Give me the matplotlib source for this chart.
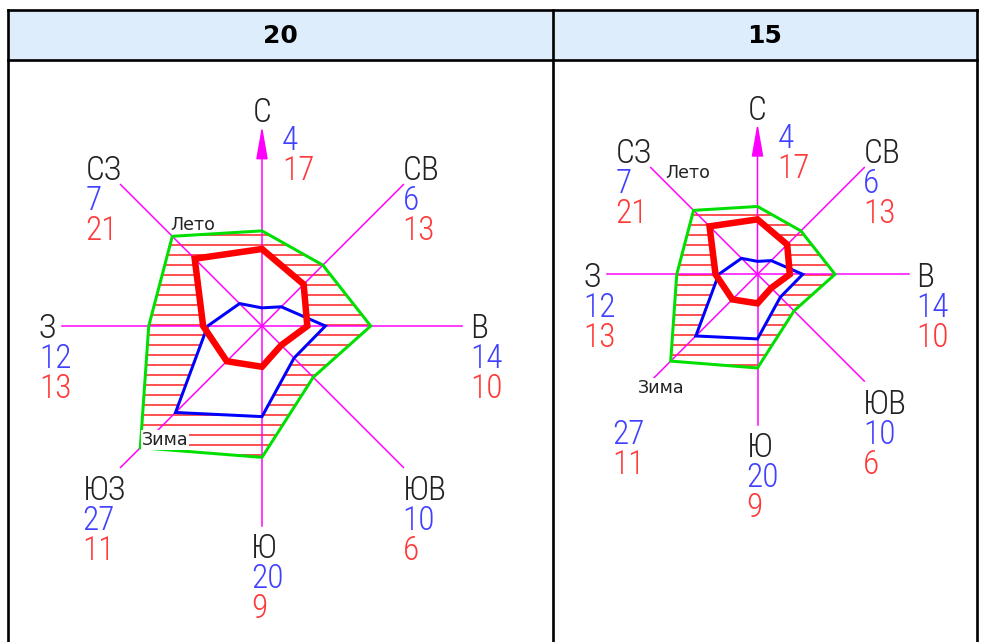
import matplotlib.pyplot as plt
from matplotlib.patches import Polygon, Rectangle
import numpy as np

W, H, DPI = 982, 642, 120

# Wind rose data (%), directions clockwise from north
directions = ['С', 'СВ', 'В', 'ЮВ', 'Ю', 'ЮЗ', 'З', 'СЗ']
angles_deg = [90, 45, 0, -45, -90, -135, 180, 135]
winter = [4, 6, 14, 10, 20, 27, 12, 7]     # Зима (blue)
summer = [17, 13, 10, 6, 9, 11, 13, 21]    # Лето (red)
headers = ['20', '15']

# label offsets from the end of each axis, pixels (x right, y down)
label_off = {'С': (0, -16), 'СВ': (-1, -17), 'В': (8, 0), 'ЮВ': (-1, 20),
             'Ю': (-11, 19), 'ЮЗ': (-38, 20), 'З': (-23, 0), 'СЗ': (-35, -17)}
num_off_N = (20, 12)
row_gap = 30

# panel geometry in pixels: cell box, centre, px per %, axis length
panels = [
    dict(cell=(8, 60, 553, 642), center=(262, 326), scale=4.53, rpx=200, sw_label=True),
    dict(cell=(553, 60, 977, 642), center=(757.5, 274.3), scale=3.23, rpx=151, sw_label=False),
]

C_RED, C_BLUE, C_GREEN, C_MAG = '#ff0000', '#0000ff', '#00e000', '#ff00ff'
T_RED, T_BLUE, T_BLACK = '#ff3838', '#4040ff', '#222222'
FONT = ['Roboto Condensed', 'Roboto', 'DejaVu Sans']

plt.rcParams['hatch.linewidth'] = 0.8

fig = plt.figure(figsize=(W / DPI, H / DPI), dpi=DPI)

# table frame
frame = fig.add_axes([0, 0, 1, 1])
frame.set_xlim(0, W)
frame.set_ylim(H, 0)
frame.set_axis_off()
frame.add_patch(Rectangle((8, 10), 969, 50, facecolor='#ddedfc', edgecolor='none'))
for (x0, y0, x1, y1) in [(8, 10, 977, 10), (8, 60, 977, 60), (8, 10, 8, 642),
                         (553, 10, 553, 642), (977, 10, 977, 642)]:
    frame.plot([x0, x1], [y0, y1], color='black', lw=1.6, solid_capstyle='projecting')
for i, htext in enumerate(headers):
    x0, _, x1, _ = panels[i]['cell']
    frame.text((x0 + x1) / 2, 36, htext, ha='center', va='center',
               fontsize=15, fontweight='bold', family='DejaVu Sans', color='black')

theta = np.deg2rad(angles_deg)
w_arr = np.array(winter, dtype=float)
s_arr = np.array(summer, dtype=float)
total = w_arr + s_arr


def pts(vals):
    return np.column_stack([vals * np.cos(theta), vals * np.sin(theta)])


for p in panels:
    x0, y0, x1, y1 = p['cell']
    cx, cy = p['center']
    sc = p['scale']
    ax = fig.add_axes([x0 / W, 1 - y1 / H, (x1 - x0) / W, (y1 - y0) / H])
    ax.set_xlim((x0 - cx) / sc, (x1 - cx) / sc)
    ax.set_ylim((cy - y1) / sc, (cy - y0) / sc)
    ax.set_axis_off()
    R = p['rpx'] / sc

    # hatched total rose, then clear the inside of the two seasonal roses
    ax.add_patch(Polygon(pts(total), closed=True, facecolor='none', edgecolor=C_RED,
                         hatch='--', lw=0, zorder=1))
    ax.add_patch(Polygon(pts(s_arr), closed=True, facecolor='white', edgecolor='none', zorder=2))
    ax.add_patch(Polygon(pts(w_arr), closed=True, facecolor='white', edgecolor='none', zorder=2))

    # direction axes
    for name, t in zip(directions, theta):
        ex, ey = R * np.cos(t), R * np.sin(t)
        if name == 'С':
            ax.annotate('', xy=(ex, ey), xytext=(0, 0),
                        arrowprops=dict(arrowstyle='-|>,head_length=1.7,head_width=0.3',
                                        color=C_MAG, lw=0.9, mutation_scale=10,
                                        shrinkA=0, shrinkB=0), zorder=3)
        else:
            ax.plot([0, ex], [0, ey], color=C_MAG, lw=0.9, zorder=3)

    ax.add_patch(Polygon(pts(total), closed=True, fill=False, edgecolor=C_GREEN, lw=1.8, zorder=4))
    ax.add_patch(Polygon(pts(w_arr), closed=True, fill=False, edgecolor=C_BLUE, lw=1.8,
                         joinstyle='miter', zorder=5))
    ax.add_patch(Polygon(pts(s_arr), closed=True, fill=False, edgecolor=C_RED, lw=3.9,
                         joinstyle='miter', zorder=6))

    # direction labels with winter / summer values
    for name, t, wv, sv in zip(directions, theta, winter, summer):
        ex, ey = R * np.cos(t), R * np.sin(t)
        dx, dy = label_off[name]
        kw = dict(xy=(ex, ey), textcoords='offset pixels', va='center_baseline',
                  fontsize=20, fontweight='light', family=FONT, annotation_clip=False)
        if name == 'С':
            ax.annotate(name, xytext=(dx, -dy), ha='center', color=T_BLACK, **kw)
            nx, ny = num_off_N
            ax.annotate(str(wv), xytext=(nx, -ny), ha='left', color=T_BLUE, **kw)
            ax.annotate(str(sv), xytext=(nx, -ny - row_gap), ha='left', color=T_RED, **kw)
            continue
        if name != 'ЮЗ' or p['sw_label']:
            ax.annotate(name, xytext=(dx, -dy), ha='left', color=T_BLACK, **kw)
        ax.annotate(str(wv), xytext=(dx, -dy - row_gap), ha='left', color=T_BLUE, **kw)
        ax.annotate(str(sv), xytext=(dx, -dy - 2 * row_gap), ha='left', color=T_RED, **kw)

    # season captions
    ax.annotate('Лето', xy=(0, 0), xytext=(-92, 101), textcoords='offset pixels',
                ha='left', va='center', fontsize=10.5, family='DejaVu Sans', color=T_BLACK,
                zorder=7)
    ax.annotate('Зима', xy=(0, 0), xytext=(-120, -114), textcoords='offset pixels',
                ha='left', va='center', fontsize=10.5, family='DejaVu Sans', color=T_BLACK,
                zorder=7, bbox=dict(facecolor='white', edgecolor='none', pad=0.5))

fig.savefig('out.png', dpi=DPI)
